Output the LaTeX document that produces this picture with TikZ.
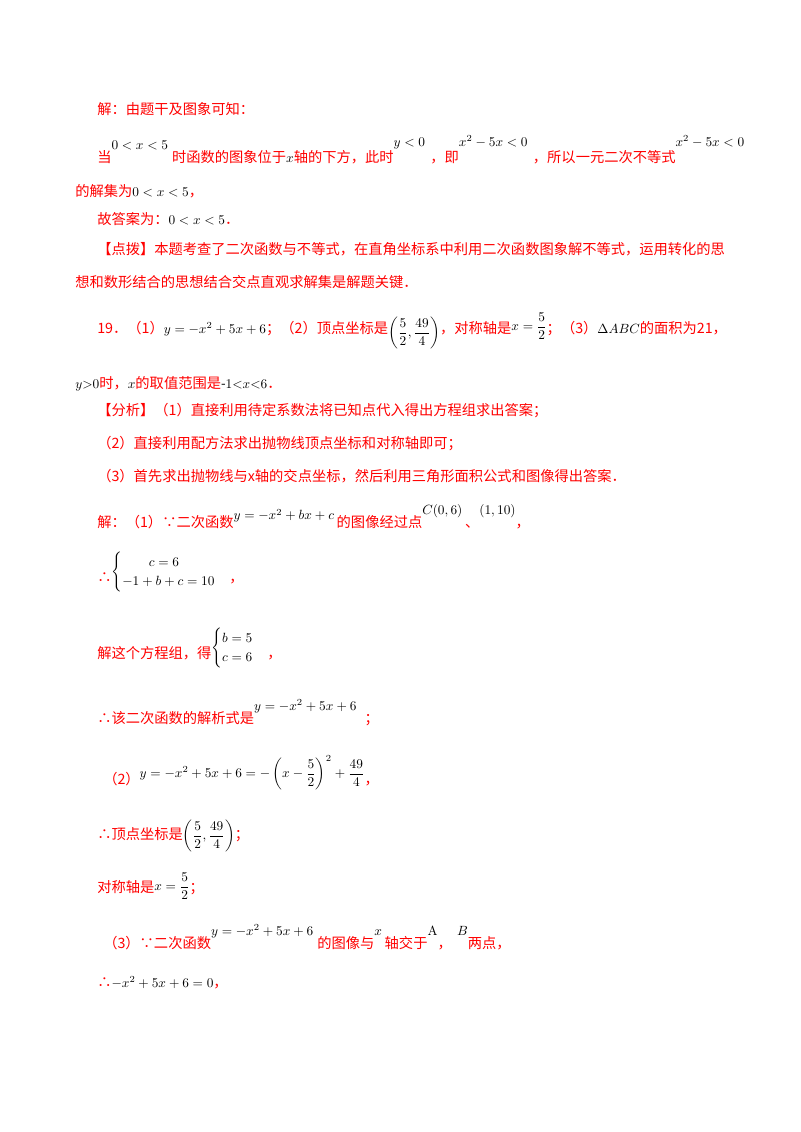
\documentclass[tikz,border=0pt]{standalone}
\usepackage{amsmath}
\usepackage[no-math]{fontspec}
\setmainfont{Noto Sans CJK SC}
\newcommand{\Mth}[1]{\textcolor{black}{\fontsize{10}{12}\selectfont$#1$}}
\newcommand{\Up}[2][7pt]{\raisebox{#1}{\Mth{#2}}}
\begin{document}
\begin{tikzpicture}[x=0.75pt,y=-0.75pt,
  ln/.style={anchor=west,inner sep=0pt,text=red,font=\fontsize{10.7}{13}\selectfont}]
\useasboundingbox (0,0) rectangle (800,1132);
\node[ln] (l1) at (97,109) {解：由题干及图象可知：};
\node[ln] (l2) at (97,150) {当\Up[10pt]{0<x<5}\hspace{3pt}时函数的图象位于\Mth{x}轴的下方，此时\Up[12pt]{y<0}\hspace{4pt}，即\Up[12pt]{x^2-5x<0}\hspace{4pt}，所以一元二次不等式\Up[12pt]{x^2-5x<0}};
\node[ln] (l3) at (75,191) {的解集为\Mth{0<x<5}，};
\node[ln] (l4) at (97,219) {故答案为：\Mth{0<x<5}．};
\node[ln] (l5) at (97,249) {【点拨】本题考查了二次函数与不等式，在直角坐标系中利用二次函数图象解不等式，运用转化的思};
\node[ln] (l6) at (75,282) {想和数形结合的思想结合交点直观求解集是解题关键．};
\node[ln] (l7) at (97,331) {19．（1）\Mth{y=-x^2+5x+6}；（2）顶点坐标是\raisebox{-2pt}{\Mth{\left(\dfrac52,\dfrac{49}4\right)}}，对称轴是\raisebox{2pt}{\Mth{x=\dfrac52}}；（3）\Mth{\Delta ABC}的面积为21，};
\node[ln] (l8) at (75,384) {\Mth{y{>}0}时，\Mth{x}的取值范围是\Mth{\text{-}1{<}x{<}6}．};
\node[ln] (l9) at (97,411) {【分析】（1）直接利用待定系数法将已知点代入得出方程组求出答案；};
\node[ln] (l10) at (97,444) {（2）直接利用配方法求出抛物线顶点坐标和对称轴即可；};
\node[ln] (l11) at (97,476) {（3）首先求出抛物线与x轴的交点坐标，然后利用三角形面积公式和图像得出答案．};
\node[ln] (l12) at (97,517) {解：（1）∵二次函数\Up[6pt]{y=-x^2+bx+c}\hspace{2pt}的图像经过点\Up[10pt]{C(0,6)}\hspace{2pt}、\Up[10pt]{(1,10)}，};
\node[ln] (l13) at (97,572) {∴\raisebox{5pt}{\Mth{\begin{cases}\qquad c=6\\ -1+b+c=10\end{cases}}}，};
\node[ln] (l14) at (97,648) {解这个方程组，得\raisebox{5pt}{\Mth{\begin{cases}b=5\\ c=6\end{cases}}}，};
\node[ln] (l15) at (97,713) {∴该二次函数的解析式是\Up[10pt]{y=-x^2+5x+6}\hspace{6pt}；};
\node[ln] (l16) at (103,773) {（2）\raisebox{5pt}{\Mth{y=-x^2+5x+6=-\left(x-\dfrac52\right)^2+\dfrac{49}4}}，};
\node[ln] (l17) at (97,836) {∴顶点坐标是\Mth{\left(\dfrac52,\dfrac{49}4\right)}；};
\node[ln] (l18) at (97,886) {对称轴是\raisebox{2pt}{\Mth{x=\dfrac52}}；};
\node[ln] (l19) at (103,937) {（3）∵二次函数\Up[10pt]{y=-x^2+5x+6}\hspace{3pt}的图像与\Up[10pt]{x}\hspace{2pt}轴交于\Up[10pt]{\mathrm{A}}，\hspace{4pt}\Up[10pt]{B}两点，};
\node[ln] (l20) at (97,983) {∴\Mth{-x^2+5x+6=0}，};
\end{tikzpicture}
\end{document}
